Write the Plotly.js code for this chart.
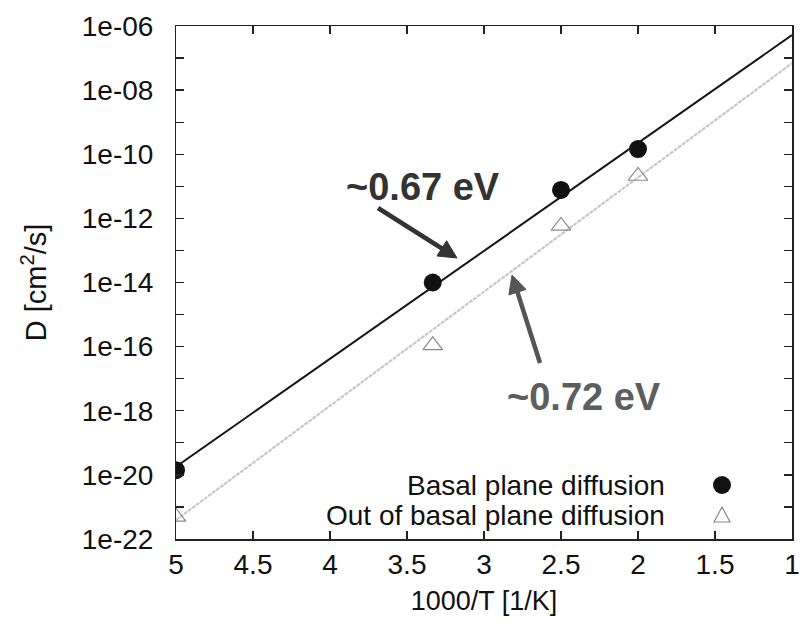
<!DOCTYPE html>
<html>
<head>
<meta charset="utf-8">
<script src="https://cdn.plot.ly/plotly-3.0.1.min.js"></script>
<style>html,body{margin:0;padding:0;background:#fff;}#chart{width:800px;height:627px;}</style>
</head>
<body>
<div id="chart"></div>
<script>
// 1000/T values [1/K]
const invT = [5, 3.333, 2.5, 2];
// Basal plane diffusion D [cm^2/s]
const basalD = [1.4e-20, 1.0e-14, 7.7e-12, 1.45e-10];
// Out of basal plane diffusion D [cm^2/s]
const outD = [4.9e-22, 1.1e-16, 5.8e-13, 2.1e-11];
// Arrhenius fit lines (end points)
const fitX = [5, 1];
const basalFit = [1.8e-20, 5.2e-7];
const outFit = [3.9e-22, 6.9e-8];
// labels
const seriesNames = ["Basal plane diffusion", "Out of basal plane diffusion"];
const energyLabels = ["~0.67 eV", "~0.72 eV"];
const yTickExp = [-22,-21,-20,-19,-18,-17,-16,-15,-14,-13,-12,-11,-10,-9,-8,-7,-6];
const yLabelExp = [-22,-20,-18,-16,-14,-12,-10,-8,-6];

const yTickVals = yTickExp.map(e => Math.pow(10, e));
const yLabelVals = yLabelExp.map(e => Math.pow(10, e));
const yLabelText = yLabelExp.map(e => "1e-" + String(-e).padStart(2, "0"));

const FONT = "Liberation Sans, Arial, sans-serif";

// plot-area geometry (pixels) used for layout-only decorations
const M = {l: 176, r: 8, t: 26, b: 88};
const W = 800, H = 627;
const PW = W - M.l - M.r, PH = H - M.t - M.b;
const px2paper = (px, py) => [(px - M.l) / PW, (H - M.b - py) / PH];

function arrowShapes(head, tail, color, width, headLen, headHalf) {
  const dx = head[0] - tail[0], dy = head[1] - tail[1];
  const len = Math.hypot(dx, dy);
  const ux = dx / len, uy = dy / len;
  const nx = -uy, ny = ux;
  const base = [head[0] - ux * headLen, head[1] - uy * headLen];
  const c1 = [base[0] + nx * headHalf, base[1] + ny * headHalf];
  const c2 = [base[0] - nx * headHalf, base[1] - ny * headHalf];
  const P = p => px2paper(p[0], p[1]).join(",");
  const shaftEnd = [head[0] - ux * (headLen * 0.6), head[1] - uy * (headLen * 0.6)];
  return [
    {type: "path", xref: "paper", yref: "paper", path: "M " + P(tail) + " L " + P(shaftEnd),
     line: {color: color, width: width}},
    {type: "path", xref: "paper", yref: "paper", path: "M " + P(head) + " L " + P(c1) + " L " + P(c2) + " Z",
     fillcolor: color, line: {color: color, width: 1}}
  ];
}

const traces = [
  {x: fitX, y: outFit, yaxis: "y2", mode: "lines", line: {color: "#c8c8c8", width: 2.2, dash: "4px,1px"}, showlegend: false, hoverinfo: "skip"},
  {x: fitX, y: basalFit, yaxis: "y2", mode: "lines", line: {color: "#151515", width: 2}, showlegend: false, hoverinfo: "skip"},
  {x: invT, y: outD, yaxis: "y2", mode: "markers", name: seriesNames[1], marker: {symbol: "triangle-up-open", size: 17, color: "#8a8a8a", line: {width: 1.2, color: "#8a8a8a"}}, showlegend: false},
  {x: invT, y: basalD, yaxis: "y2", mode: "markers", name: seriesNames[0], marker: {symbol: "circle", size: 18, color: "#111"}, showlegend: false}
];

const tickFont = {family: FONT, size: 28, color: "#111"};

const layout = {
  width: W, height: H,
  margin: M,
  paper_bgcolor: "#fff", plot_bgcolor: "#fff",
  showlegend: false,
  xaxis: {
    range: [5, 1], tick0: 1, dtick: 0.5,
    showline: true, linecolor: "#222", linewidth: 1.5, mirror: "ticks",
    ticks: "inside", ticklen: 8, tickwidth: 1.3, tickcolor: "#222",
    showgrid: false, zeroline: false, tickfont: tickFont,
    title: {text: "1000/T [1/K]", font: {family: FONT, size: 27, color: "#111"}, standoff: 12}
  },
  // labelled axis: transparent outside ticks only push labels away from the frame
  yaxis: {
    type: "log", range: [-22, -6], tickmode: "array", tickvals: yLabelVals, ticktext: yLabelText,
    showline: false, ticks: "outside", ticklen: 16, tickcolor: "rgba(0,0,0,0)",
    showgrid: false, zeroline: false, tickfont: tickFont,
    title: {text: "D [cm<sup>2</sup>/s]", font: {family: FONT, size: 29, color: "#111"}, standoff: 26}
  },
  // frame axis with inside ticks at every decade
  yaxis2: {
    type: "log", range: [-22, -6], overlaying: "y", side: "left", anchor: "x",
    tickmode: "array", tickvals: yTickVals, showticklabels: false,
    showline: true, linecolor: "#222", linewidth: 1.5, mirror: "ticks",
    ticks: "inside", ticklen: 8, tickwidth: 1.3, tickcolor: "#222",
    showgrid: false, zeroline: false
  },
  annotations: [
    {x: 3.396, y: -11.02, xref: "x", yref: "y", text: "<b>" + energyLabels[0] + "</b>", showarrow: false,
     font: {family: FONT, size: 38, color: "#333"}},
    {x: 2.351, y: -17.57, xref: "x", yref: "y", text: "<b>" + energyLabels[1] + "</b>", showarrow: false,
     font: {family: FONT, size: 38, color: "#5e5e5e"}},
    {x: px2paper(667, 0)[0], y: px2paper(0, 485)[1], xref: "paper", yref: "paper", xanchor: "right", yanchor: "middle", text: seriesNames[0], showarrow: false,
     font: {family: FONT, size: 28, color: "#111"}},
    {x: px2paper(667, 0)[0], y: px2paper(0, 515)[1], xref: "paper", yref: "paper", xanchor: "right", yanchor: "middle", text: seriesNames[1], showarrow: false,
     font: {family: FONT, size: 28, color: "#111"}}
  ],
  shapes: [].concat(
    arrowShapes([457, 258], [378, 208], "#333", 4.5, 18, 9),
    arrowShapes([512, 275], [540, 363], "#555", 4.5, 18, 9),
    [
      {type: "circle", xref: "paper", yref: "paper", xsizemode: "pixel", ysizemode: "pixel",
       xanchor: px2paper(722, 485)[0], yanchor: px2paper(722, 485)[1], x0: -9, x1: 9, y0: -9, y1: 9,
       fillcolor: "#111", line: {width: 0}},
      {type: "path", xref: "paper", yref: "paper", xsizemode: "pixel", ysizemode: "pixel",
       xanchor: px2paper(722, 515)[0], yanchor: px2paper(722, 515)[1], path: "M -8,-7 L 8,-7 L 0,8 Z",
       fillcolor: "rgba(0,0,0,0)", line: {width: 1.2, color: "#8a8a8a"}}
    ]
  )
};

Plotly.newPlot("chart", traces, layout, {displayModeBar: false, staticPlot: true});
</script>
</body>
</html>
